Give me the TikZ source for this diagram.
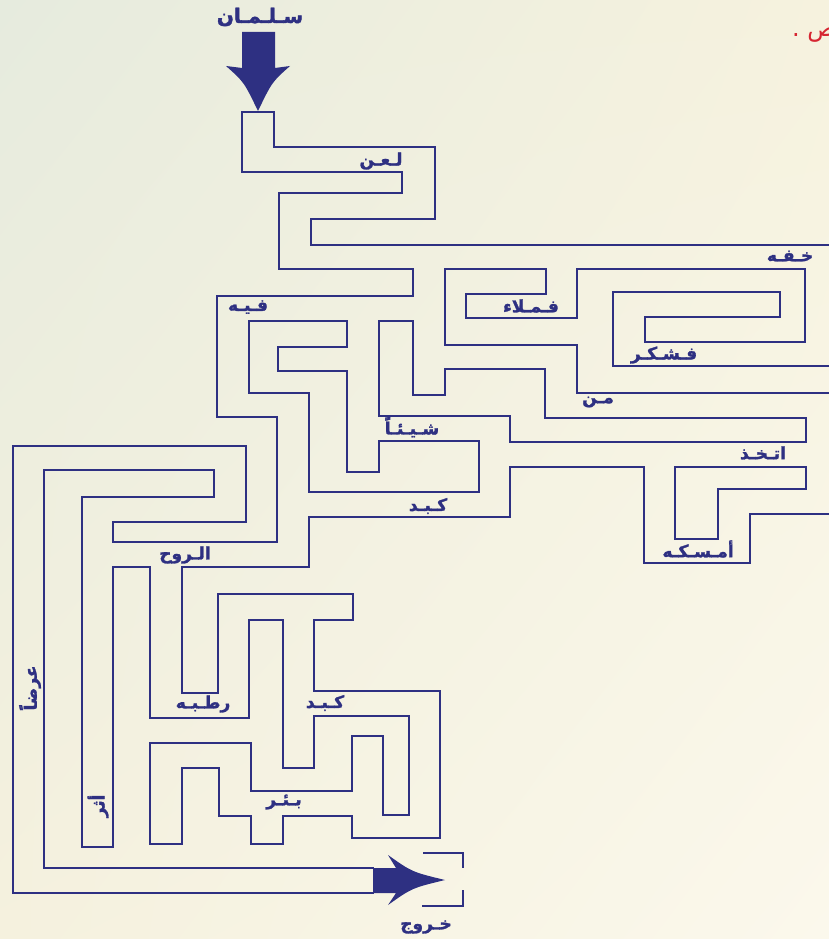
\documentclass[tikz,border=0pt]{standalone}
\usepackage{fontspec}
\usetikzlibrary{shadings}
\newfontfamily\arabicfont[Script=Arabic, BoldFeatures={FakeBold=1.6}]{DejaVu Sans}
\TeXXeTstate=1
\definecolor{navy}{RGB}{46,48,130}
\definecolor{redt}{RGB}{214,38,50}
\definecolor{bgA}{RGB}{230,235,222}
\definecolor{bgB}{RGB}{246,242,222}
\definecolor{bgC}{RGB}{245,241,222}
\definecolor{bgD}{RGB}{251,248,236}
\tikzset{
  wall/.style={draw=navy, line width=1.8pt, line join=miter},
  lab/.style={text=navy, inner sep=0pt, font=\arabicfont\bfseries\fontsize{17}{17}\selectfont},
  biglab/.style={lab, font=\arabicfont\bfseries\fontsize{20}{20}\selectfont},
  bracket/.style={draw=navy, line width=2.6pt}
}
\begin{document}
\begin{tikzpicture}[x=1pt,y=-1pt]
\useasboundingbox (0,0) rectangle (829,939);
\clip (0,0) rectangle (829,939);
\shade[upper left=bgA, upper right=bgB, lower left=bgC, lower right=bgD] (0,0) rectangle (829,939);

% entry arrow
\fill[navy] (242,32) -- (275,32) -- (275,68) -- (290,66) .. controls (272,82) .. (258,111) .. controls (244,82) .. (226,66) -- (242,68) -- cycle;
\node[biglab] (salman) at (260,17) {\beginR سـلـمـان\endR};

% outer wall (left side), from the top right edge round to the exit
\draw[wall] (829,245) -- (311,245) -- (311,219) -- (435,219) -- (435,147) -- (274,147) -- (274,112)
  -- (242,112) -- (242,172) -- (402,172) -- (402,193) -- (279,193) -- (279,269) -- (413,269)
  -- (413,296) -- (217,296) -- (217,417) -- (277,417) -- (277,542) -- (113,542) -- (113,522)
  -- (246,522) -- (246,446) -- (13,446) -- (13,893) -- (374,893);

% top-right spiral wall
\draw[wall] (829,366) -- (613,366) -- (613,292) -- (780,292) -- (780,317) -- (645,317) -- (645,342)
  -- (805,342) -- (805,269) -- (577,269) -- (577,318) -- (466,318) -- (466,294) -- (546,294)
  -- (546,269) -- (445,269) -- (445,345) -- (577,345) -- (577,393) -- (829,393);

% islands
\draw[wall] (379,416) -- (379,321) -- (413,321) -- (413,395) -- (445,395) -- (445,369) -- (545,369)
  -- (545,418) -- (806,418) -- (806,442) -- (510,442) -- (510,416) -- cycle;
\draw[wall] (249,321) -- (249,393) -- (309,393) -- (309,492) -- (479,492) -- (479,441) -- (379,441)
  -- (379,472) -- (347,472) -- (347,371) -- (278,371) -- (278,347) -- (347,347) -- (347,321) -- cycle;
\draw[wall] (806,467) -- (675,467) -- (675,539) -- (718,539) -- (718,489) -- (806,489) -- cycle;

% long inner wall
\draw[wall] (374,868) -- (44,868) -- (44,470) -- (214,470) -- (214,497) -- (82,497) -- (82,847)
  -- (113,847) -- (113,567) -- (150,567) -- (150,718) -- (249,718) -- (249,620) -- (283,620)
  -- (283,768) -- (314,768) -- (314,716) -- (409,716) -- (409,815) -- (383,815) -- (383,736)
  -- (352,736) -- (352,791) -- (251,791) -- (251,743) -- (150,743) -- (150,844) -- (182,844)
  -- (182,768) -- (219,768) -- (219,816) -- (251,816) -- (251,844) -- (283,844) -- (283,816)
  -- (352,816) -- (352,838) -- (440,838) -- (440,691) -- (314,691) -- (314,620) -- (353,620)
  -- (353,594) -- (218,594) -- (218,693) -- (182,693) -- (182,567) -- (309,567) -- (309,517)
  -- (510,517) -- (510,467) -- (644,467) -- (644,563) -- (750,563) -- (750,514) -- (829,514);

% exit arrow and bracket
\fill[navy] (373,868) -- (396,868) -- (388,855) .. controls (412,872) .. (445,880) .. controls (412,888) .. (388,905) -- (396,893) -- (373,893) -- cycle;
\draw[bracket] (423,853) -- (463,853) -- (463,868);
\draw[bracket] (463,890) -- (463,906) -- (422,906);
\node[lab] (khuruj) at (426,927) {\beginR خـروج\endR};

% labels
\node[lab] (laan) at (381,161) {\beginR لـعـن\endR};
\node[lab] (khafa) at (790,256) {\beginR خـفـه\endR};
\node[lab] (famla) at (531,306) {\beginR فـمـلاء\endR};
\node[lab] (fashkar) at (664,355) {\beginR فـشـكـر\endR};
\node[lab] (min) at (598,402) {\beginR مـن\endR};
\node[lab] (ittakhadh) at (763,453) {\beginR اتـخـذ\endR};
\node[lab] (amsakahu) at (698,549) {\beginR أمـسـكـه\endR};
\node[lab] (fihi) at (248,307) {\beginR فـيـه\endR};
\node[lab] (shayan) at (412,427) {\beginR شـيـئـاً\endR};
\node[lab] (kabid1) at (428,506) {\beginR كـبـد\endR};
\node[lab] (ruh) at (185,555) {\beginR الـروح\endR};
\node[lab] (rataba) at (203,704) {\beginR رطـبـه\endR};
\node[lab] (kabid2) at (325,703) {\beginR كـبـد\endR};
\node[lab] (bir) at (284,802) {\beginR بـئـر\endR};
\node[lab, rotate=90] (ardan) at (30,688) {\beginR عرضاً\endR};
\node[lab, rotate=90] (athar) at (98,806) {\beginR أثر\endR};

% cut-off red text at the top right
\node[text=redt, inner sep=0pt, anchor=west, font=\arabicfont\fontsize{24}{24}\selectfont] (redtext) at (792,35) {\beginR ص .\endR};
\end{tikzpicture}
\end{document}
